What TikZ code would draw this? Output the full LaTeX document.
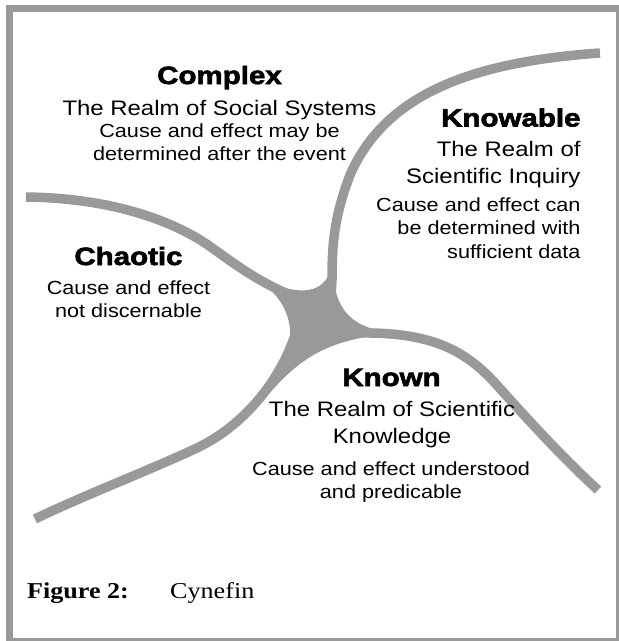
\documentclass[tikz,border=0pt]{standalone}
\usepackage{fontspec}
\newfontfamily\bodyfont{Liberation Sans}[FakeStretch=1.14]
\newfontfamily\headfont{Liberation Sans Bold}[FakeStretch=1.18,FakeBold=2.5]
\newfontfamily\capfont{Liberation Serif}[FakeStretch=1.15]
\definecolor{branchgray}{HTML}{999999}

\begin{document}
\begin{tikzpicture}[x=1pt,y=-1pt,
    branch/.style={draw=branchgray, line width=9.5pt},
    head/.style={anchor=base, inner sep=0pt, font=\headfont\fontsize{25}{30}\selectfont},
    realm/.style={anchor=base, inner sep=0pt, font=\bodyfont\fontsize{21}{25}\selectfont},
    cause/.style={anchor=base, inner sep=0pt, font=\bodyfont\fontsize{19}{23}\selectfont}]
    \useasboundingbox (0,0) rectangle (619,641);
    \clip (0,0) rectangle (619,641);

    % frame
    \draw[branchgray, line width=6.5pt] (9.3,8.3) rectangle (619,641);

    % the four boundaries
    \draw[branch] (600,53) .. controls (470,62) and (385,95) .. (350,175)
        .. controls (335,215) and (332,240) .. (332,280) -- (330,312);
    \draw[branch] (26,197) .. controls (110,198) and (175,220) .. (215,250)
        .. controls (240,268) and (260,282) .. (290,295) -- (312,310);
    \draw[branch] (328,330) -- (360,333) .. controls (430,332) and (465,350) .. (495,383)
        .. controls (530,422) and (565,460) .. (598,490);
    \draw[branch] (310,318) -- (295,335) .. controls (280,380) and (245,425) .. (197,448)
        .. controls (150,470) and (80,497) .. (35,519);

    % centre
    \fill[branchgray] (332,255) .. controls (332,300) and (295,297) .. (250,274)
        .. controls (300,305) and (300,345) .. (268,395)
        .. controls (305,352) and (335,338) .. (400,333)
        .. controls (345,330) and (332,305) .. (332,255) -- cycle;

    % complex
    \node[head] (complex) at (219.5,84) {Complex};
    \node[realm] (complexrealm) at (219.5,115) {The Realm of Social Systems};
    \node[cause] (complexcause1) at (219.5,137.5) {Cause and effect may be};
    \node[cause] (complexcause2) at (219.5,160) {determined after the event};

    % knowable
    \node[head, anchor=base east] (knowable) at (580.7,126.5) {Knowable};
    \node[realm, anchor=base east] (knowrealm1) at (580.7,156) {The Realm of};
    \node[realm, anchor=base east] (knowrealm2) at (580.7,183) {Scientific Inquiry};
    \node[cause, anchor=base east] (knowcause1) at (580.7,211) {Cause and effect can};
    \node[cause, anchor=base east] (knowcause2) at (580.7,234) {be determined with};
    \node[cause, anchor=base east] (knowcause3) at (580.7,258.5) {sufficient data};

    % chaotic
    \node[head] (chaotic) at (128.5,265) {Chaotic};
    \node[cause] (chaoscause1) at (128.5,294) {Cause and effect};
    \node[cause] (chaoscause2) at (128.5,317) {not discernable};

    % known
    \node[head] (known) at (391.5,386) {Known};
    \node[realm] (knownrealm1) at (392,416) {The Realm of Scientific};
    \node[realm] (knownrealm2) at (392,443) {Knowledge};
    \node[cause] (knowncause1) at (391,475) {Cause and effect understood};
    \node[cause] (knowncause2) at (391,498) {and predicable};

    % caption
    \node[anchor=base west, inner sep=0pt, font=\capfont\bfseries\fontsize{22.7}{27}\selectfont] (figlabel) at (27,598) {Figure 2:};
    \node[anchor=base west, inner sep=0pt, font=\capfont\fontsize{22.7}{27}\selectfont] (figname) at (170,598) {Cynefin};
\end{tikzpicture}
\end{document}
